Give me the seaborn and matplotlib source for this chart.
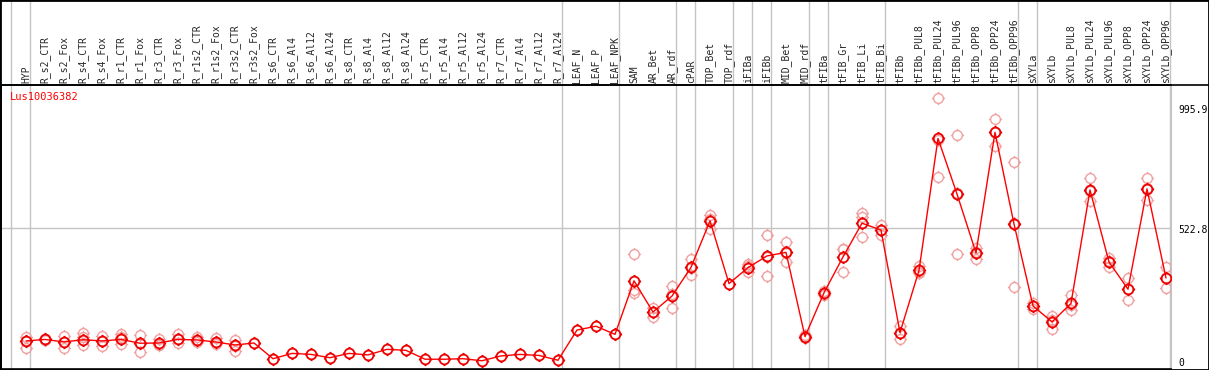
import matplotlib
matplotlib.use("Agg")
import matplotlib.pyplot as plt
from matplotlib.path import Path
from matplotlib.lines import Line2D
from matplotlib.transforms import blended_transform_factory, ScaledTranslation
import seaborn as sns
import pandas as pd
import numpy as np

categories = ["HYP", "R_s2_CTR", "R_s2_Fox", "R_s4_CTR", "R_s4_Fox", "R_r1_CTR", "R_r1_Fox",
              "R_r3_CTR", "R_r3_Fox", "R_r1s2_CTR", "R_r1s2_Fox", "R_r3s2_CTR", "R_r3s2_Fox",
              "R_s6_CTR", "R_s6_Al4", "R_s6_Al12", "R_s6_Al24", "R_s8_CTR", "R_s8_Al4", "R_s8_Al12",
              "R_s8_Al24", "R_r5_CTR", "R_r5_Al4", "R_r5_Al12", "R_r5_Al24", "R_r7_CTR", "R_r7_Al4",
              "R_r7_Al12", "R_r7_Al24", "LEAF_N", "LEAF_P", "LEAF_NPK", "SAM", "AR_Bet", "AR_rdf",
              "cPAR", "TOP_Bet", "TOP_rdf", "iFIBa", "iFIBb", "MID_Bet", "MID_rdf", "tFIBa",
              "tFIB_Gr", "tFIB_Li", "tFIB_Bi", "tFIBb", "tFIBb_PUL8", "tFIBb_PUL24", "tFIBb_PUL96",
              "tFIBb_OPP8", "tFIBb_OPP24", "tFIBb_OPP96", "sXYLa", "sXYLb", "sXYLb_PUL8",
              "sXYLb_PUL24", "sXYLb_PUL96", "sXYLb_OPP8", "sXYLb_OPP24", "sXYLb_OPP96"]

means = [79, 85, 75, 84, 79, 85, 70, 71, 85, 83, 75, 63, 71,
         9, 30, 26, 13, 30, 24, 46, 42, 7, 7, 9, 1, 20, 26, 22, 3,
         122, 137, 105, 316, 193, 256, 369, 552, 305, 368, 414, 428, 96,
         269, 410, 543, 516, 112, 357, 877, 658, 426, 901, 540,
         217, 154, 227, 674, 390, 283, 678, 327]

replicates = [[93, 80, 50], [88, 84, 81], [100, 75, 50], [109, 93, 62], [100, 78, 59],
              [105, 93, 67], [102, 72, 35], [85, 65, 63], [105, 85, 70], [93, 83, 75],
              [92, 75, 68], [83, 60, 41], [],
              [], [], [], [], [], [], [], [], [], [], [], [], [], [], [], [],
              [], [], [],
              [420, 280, 267], [210, 193, 175], [295, 263, 210], [401, 366, 340],
              [575, 561, 520], [], [381, 374, 349], [496, 411, 335], [468, 425, 391],
              [102, 89], [275, 269, 260], [441, 440, 349], [584, 569, 487], [536, 516, 496],
              [138, 112, 86], [374, 351, 346], [1035, 872, 724], [889, 663, 422],
              [446, 431, 401], [952, 904, 847], [783, 545, 292], [230, 215, 206],
              [177, 160, 125], [260, 220, 201], [720, 670, 632], [405, 396, 369],
              [326, 283, 240], [720, 680, 634], [369, 326, 286]]

# first category of each group (vertical separators)
group_starts = [0, 1, 29, 32, 35, 36, 38, 39, 40, 42, 43, 46, 53, 54, 61]
ytick_values = [0, 522.8, 995.9]
ytick_labels = ["0", "522.8", "995.9"]
gene = "Lus10036382"

sns.set_style("white")
plt.rcParams["font.family"] = ["DejaVu Sans Mono"]

# circle with four little ticks
circ = Path.unit_circle()
ticks = Path([(0, 1), (0, 1.35), (0, -1), (0, -1.35), (1, 0), (1.35, 0), (-1, 0), (-1.35, 0)],
             [Path.MOVETO, Path.LINETO] * 4)
tick_marker = Path.make_compound_path(circ, ticks)

W, H = 1209, 370
fig = plt.figure(figsize=(W / 100, H / 100), dpi=100)
ax = fig.add_axes([1 / W, 1 / H, 1170 / W, 284 / H])

idx = np.arange(len(categories))
rep_df = pd.DataFrame([(i, v) for i, r in enumerate(replicates) for v in r], columns=["pos", "value"])
mean_df = pd.DataFrame({"pos": idx, "value": means})

ax.axhline(522.8, color="#c4c4c4", lw=1, zorder=0)
for g in group_starts:
    ax.axvline(g - 0.79, ymin=0, ymax=1 + 85 / 284, color="#c4c4c4", lw=1, zorder=0, clip_on=False)

ax.plot(rep_df["pos"], rep_df["value"], ls="none", marker=tick_marker, ms=9.5,
        mfc="none", mec="#f0a0a0", mew=1.0, zorder=2)
sns.lineplot(data=mean_df, x="pos", y="value", ax=ax, color="#ff0000", lw=1,
             marker=tick_marker, markersize=9.5, markerfacecolor="none",
             markeredgecolor="#ee0000", markeredgewidth=1.3, zorder=3)

ax.set_xlim(-25 / 19, 1145 / 19)
ax.set_ylim(-31.5, 1087.5)
ax.set_xlabel("")
ax.set_ylabel("")

ax.xaxis.tick_top()
ax.set_xticks(idx)
ax.set_xticklabels(categories, rotation=90, fontsize=7)
ax.tick_params(axis="x", length=0, pad=1.5)

# value labels in the right-hand margin
ax.set_yticks([])
lab_tr = blended_transform_factory(ax.transAxes, ax.transData) + \
    ScaledTranslation(7 / 100, -1.5 / 100, fig.dpi_scale_trans)
for v, t in zip(ytick_values, ytick_labels):
    ax.text(1, v, t, transform=lab_tr, fontsize=7, va="center", ha="left", color="black",
            clip_on=False)

for side in ["left", "bottom", "top"]:
    ax.spines[side].set_color("black")
    ax.spines[side].set_linewidth(1.2)
ax.spines["right"].set_color("#c4c4c4")

ax.text(9 / 1170, 1 - 12 / 284, gene, transform=ax.transAxes, color="red",
        fontsize=7.5, va="center", ha="left")

# outer frame and header separator
fig.add_artist(plt.Rectangle((0, 0), 1, 1, transform=fig.transFigure, fill=False,
                             edgecolor="black", lw=2))
fig.add_artist(Line2D([0, 1], [(H - 85) / H] * 2, transform=fig.transFigure, color="black", lw=1.2))

fig.savefig("out.png", dpi=100)
